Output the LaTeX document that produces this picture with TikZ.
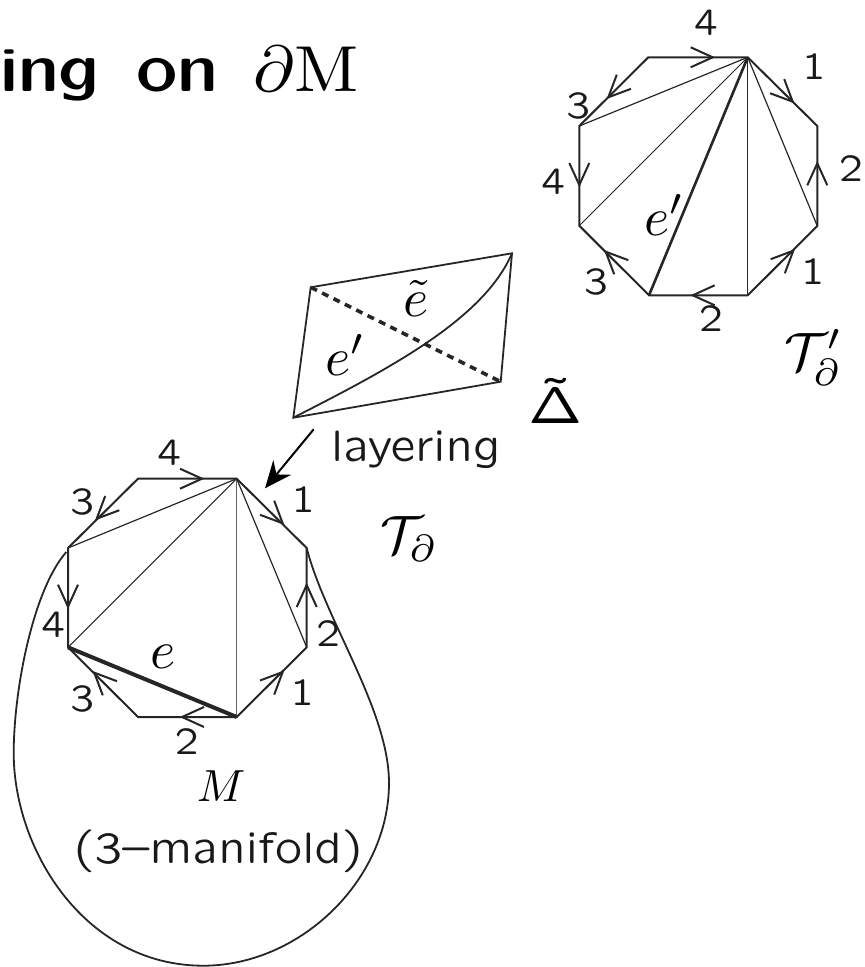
\documentclass[tikz,border=0pt]{standalone}
\usepackage{amsmath}
\usetikzlibrary{arrows.meta}
\font\labfont=lcmss8 at 38pt
\font\wordfont=lcmss8 at 44pt
\font\titlefont=lcmssb8 at 60pt
\font\deltafont=lcmss8 at 52pt
\newcommand\vtip[3]{\draw[edge,shift={(#1,#2)},rotate=#3] (-22,-10)--(0,0)--(-22,10);}
\tikzset{
  edge/.style={line width=2pt,draw=black!85,line join=miter},
  thindiag/.style={line width=1.2pt,draw=black!85},
  num/.style={inner sep=0pt,font=\labfont,text=black!90},
  word/.style={inner sep=0pt,anchor=base west,font=\wordfont,text=black!90},
  mathlab/.style={inner sep=0pt,anchor=base west},
}
\begin{document}
\begin{tikzpicture}[x=1pt,y=-1pt]
\useasboundingbox (0,0) rectangle (865,967);
% upper octagon
\coordinate (ua) at (747.7,57.3);
\coordinate (ub) at (648.3,57.3);
\coordinate (uc) at (579.3,126);
\coordinate (ud) at (579.3,225.7);
\coordinate (ue) at (649,295.3);
\coordinate (uf) at (747.7,295.3);
\coordinate (ug) at (817.3,226);
\coordinate (uh) at (817.3,126);
\draw[edge] (ua)--(ub)--(uc)--(ud)--(ue)--(uf)--(ug)--(uh)--cycle;
\draw[thindiag] (ua)--(uc);
\draw[thindiag,line width=1pt] (ua)--(ud);
\draw[thindiag,line width=2.6pt] (ua)--(ue);
\draw[thindiag] (ua)--(uf);
\draw[thindiag] (ua)--(ug);
\vtip{712.7}{57.3}{0}
\vtip{608.3}{97.3}{225}
\vtip{579.3}{185}{270}
\vtip{605.7}{251.7}{135}
\vtip{692.7}{295.3}{180}
\vtip{793.3}{250.7}{45}
\vtip{817.3}{163.3}{90}
\vtip{792.7}{101.7}{-45}
\node[num] (u1) at (706,23.3) {4};
\node[num] (u2) at (814,66.7) {1};
\node[num] (u3) at (851,169) {2};
\node[num] (u4) at (812.7,271.7) {1};
\node[num] (u5) at (711,319) {2};
\node[num] (u6) at (596,281.7) {3};
\node[num] (u7) at (553.3,181.7) {4};
\node[num] (u8) at (578.3,106) {3};
\node[mathlab] (ueprime) at (644,235) {\scalebox{5.4}{$e'$}};
% lower octagon
\coordinate (la) at (236.7,478.7);
\coordinate (lb) at (138,478.7);
\coordinate (lc) at (68,548);
\coordinate (ld) at (68,647.3);
\coordinate (le) at (138,717);
\coordinate (lf) at (236.7,717);
\coordinate (lg) at (306.7,647.3);
\coordinate (lh) at (306.7,548);
\draw[edge] (la)--(lb)--(lc)--(ld)--(le)--(lf)--(lg)--(lh)--cycle;
\draw[thindiag] (la)--(lc);
\draw[thindiag,line width=1pt] (la)--(ld);
\draw[thindiag,draw=black!60] (la)--(lf);
\draw[thindiag] (la)--(lg);
\draw[line width=4pt,draw=black!85] (ld)--(lf);
\vtip{202}{478.7}{0}
\vtip{96.7}{518.7}{225}
\vtip{68}{606.7}{270}
\vtip{94.3}{672.7}{135}
\vtip{182}{717}{180}
\vtip{282.7}{672}{45}
\vtip{306.7}{585}{90}
\vtip{282.7}{523.3}{-45}
\node[num] (l1) at (169.3,452.7) {4};
\node[num] (l2) at (82.3,502.3) {3};
\node[num] (l3) at (303.3,500) {1};
\node[num] (l4) at (328.3,634) {2};
\node[num] (l5) at (302.3,693.3) {1};
\node[num] (l6) at (186.7,741.7) {2};
\node[num] (l7) at (82.3,699.3) {3};
\node[num] (l8) at (53.3,625) {4};
\node[mathlab] (elab) at (150,668) {\scalebox{5.4}{$e$}};
% blob
\coordinate (bs) at (66.3,552);
\draw[line width=1.8pt,draw=black!85] (bs)
  .. controls (33,590) and (13.7,690) .. (13.7,753)
  .. controls (13.7,850) and (85,965.7) .. (203.3,965.7)
  .. controls (300,965.7) and (389,880) .. (389,783)
  .. controls (389,710) and (325,620) .. (lh);
\node[mathlab] (mlab) at (196.7,801.7) {\scalebox{4.5}{$M$}};
\node[word] (mfd) at (73,863) {(3--manifold)};
% tetrahedron
\coordinate (ta) at (310.7,287.3);
\coordinate (tb) at (512,253.3);
\coordinate (tc) at (500.7,381.7);
\coordinate (td) at (293.3,417.7);
\draw[edge,line width=1.8pt] (ta)--(tb)--(tc)--(td)--cycle;
\draw[line width=1.8pt,draw=black!85] (td) .. controls (386.7,370) and (483.3,320) .. (tb);
\draw[line width=3.6pt,draw=black!85,dash pattern=on 7pt off 5.7pt] (ta)--(tc);
\node[mathlab] (teprime) at (325,375) {\scalebox{5.4}{$e'$}};
\node[mathlab] (tetilde) at (403,316.7) {\scalebox{5.4}{$\tilde e$}};
\node[inner sep=0pt,anchor=base west,font=\deltafont] (delta) at (528,423) {\accent"7E\char1};
% layering arrow
\coordinate (af) at (313.7,429.3);
\coordinate (at) at (265,488.3);
\draw[line width=2pt,-{Stealth[length=27pt,width=23pt,inset=9pt]}] (af)--(at);
\node[word] (lay) at (331,461.7) {layering};
\node[mathlab] (tlow) at (380,553) {\scalebox{5.4}{$\mathcal{T}_{\partial}$}};
\node[mathlab] (tup) at (784,370) {\scalebox{5.4}{$\mathcal{T}'_{\partial}$}};
% title
\node[inner sep=0pt,anchor=base west,font=\titlefont] (title) at (0,91) {ing\hspace{9pt} on};
\node[mathlab] (titlem) at (253,91) {\scalebox{7}[6.5]{$\partial\mathrm{M}$}};
\end{tikzpicture}
\end{document}
